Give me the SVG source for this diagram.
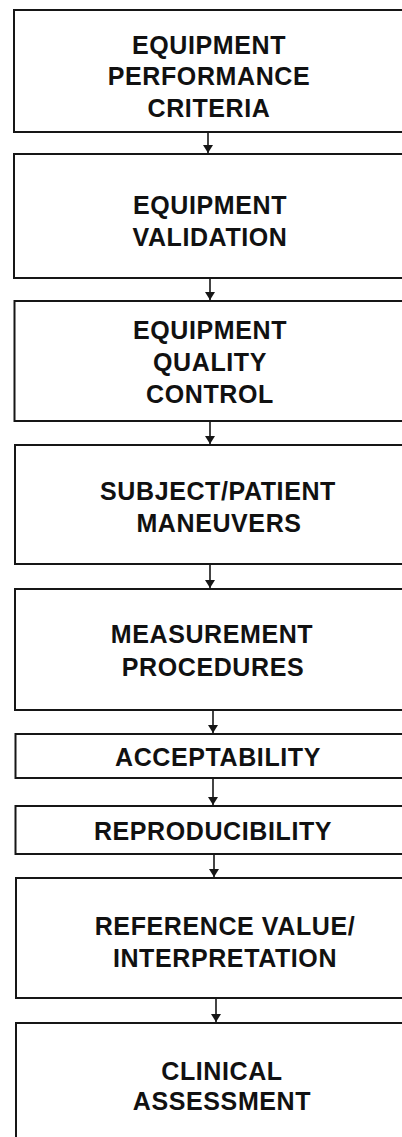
<svg xmlns="http://www.w3.org/2000/svg" width="402" height="1137" viewBox="0 0 402 1137">
  <style>
    .box { fill: #ffffff; stroke: #161616; stroke-width: 2; }
    .lbl { font-family: "Liberation Sans", Arial, Helvetica, sans-serif; font-weight: bold; font-size: 25px; letter-spacing: 0.6px; fill: #111111; text-anchor: middle; }
    .conn { stroke: #161616; stroke-width: 1.6; fill: none; }
  </style>
  <defs>
    <marker id="arrow" viewBox="0 0 8 10" refX="8" refY="5" markerWidth="8" markerHeight="10" markerUnits="userSpaceOnUse" orient="auto">
      <path d="M0,0 L8,5 L0,10 Z" fill="#161616"/>
    </marker>
  </defs>
  <rect width="402" height="1137" fill="#ffffff"/>

  <!-- process steps; boxes run past the right edge -->
  <g id="n-performance">
    <rect class="box" x="14" y="10" width="420" height="122"/>
    <text class="lbl" x="209" y="54">EQUIPMENT</text>
    <text class="lbl" x="209" y="85">PERFORMANCE</text>
    <text class="lbl" x="209" y="117">CRITERIA</text>
  </g>
  <g id="n-validation">
    <rect class="box" x="14" y="154" width="420" height="124"/>
    <text class="lbl" x="210" y="214">EQUIPMENT</text>
    <text class="lbl" x="210" y="246">VALIDATION</text>
  </g>
  <g id="n-quality">
    <rect class="box" x="14.5" y="301" width="420" height="120"/>
    <text class="lbl" x="210" y="339">EQUIPMENT</text>
    <text class="lbl" x="210" y="371">QUALITY</text>
    <text class="lbl" x="210" y="403">CONTROL</text>
  </g>
  <g id="n-maneuvers">
    <rect class="box" x="15" y="445" width="420" height="119"/>
    <text class="lbl" x="218" y="500">SUBJECT/PATIENT</text>
    <text class="lbl" x="219" y="532">MANEUVERS</text>
  </g>
  <g id="n-procedures">
    <rect class="box" x="15" y="589" width="420" height="121"/>
    <text class="lbl" x="212" y="643">MEASUREMENT</text>
    <text class="lbl" x="213" y="676">PROCEDURES</text>
  </g>
  <g id="n-acceptability">
    <rect class="box" x="15.5" y="734" width="420" height="44"/>
    <text class="lbl" x="218" y="766">ACCEPTABILITY</text>
  </g>
  <g id="n-reproducibility">
    <rect class="box" x="15.5" y="806" width="420" height="48"/>
    <text class="lbl" x="213" y="840">REPRODUCIBILITY</text>
  </g>
  <g id="n-reference">
    <rect class="box" x="16" y="878" width="420" height="120"/>
    <text class="lbl" x="225" y="935">REFERENCE VALUE/</text>
    <text class="lbl" x="225" y="967">INTERPRETATION</text>
  </g>
  <g id="n-clinical">
    <rect class="box" x="16" y="1023" width="420" height="140"/>
    <text class="lbl" x="222" y="1080">CLINICAL</text>
    <text class="lbl" x="222" y="1110">ASSESSMENT</text>
  </g>

  <!-- downward flow arrows -->
  <g id="connectors">
    <line class="conn" x1="208" y1="133" x2="208" y2="153" marker-end="url(#arrow)"/>
    <line class="conn" x1="210" y1="279" x2="210" y2="300" marker-end="url(#arrow)"/>
    <line class="conn" x1="210" y1="422" x2="210" y2="444" marker-end="url(#arrow)"/>
    <line class="conn" x1="210" y1="565" x2="210" y2="588" marker-end="url(#arrow)"/>
    <line class="conn" x1="213" y1="711" x2="213" y2="733" marker-end="url(#arrow)"/>
    <line class="conn" x1="213" y1="779" x2="213" y2="805" marker-end="url(#arrow)"/>
    <line class="conn" x1="214" y1="855" x2="214" y2="877" marker-end="url(#arrow)"/>
    <line class="conn" x1="216" y1="999" x2="216" y2="1022" marker-end="url(#arrow)"/>
  </g>
</svg>
